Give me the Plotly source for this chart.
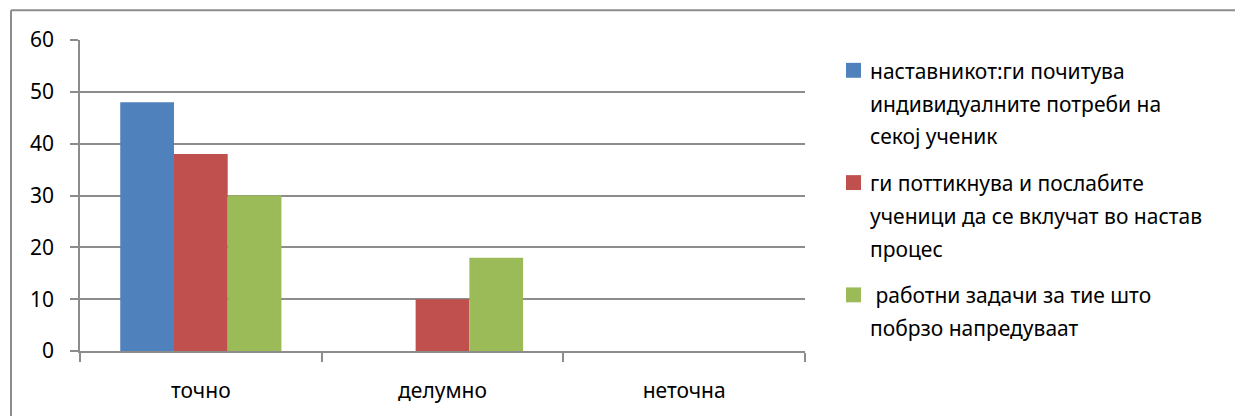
import plotly.graph_objects as go

categories = ["точно", "делумно", "неточна"]
series_names = [
    "наставникот:ги почитува индивидуалните потреби на секој ученик",
    "ги поттикнува и послабите ученици да се вклучат во настав процес",
    " работни задачи за тие што побрзо напредуваат",
]
legend_lines = [
    ["наставникот:ги почитува", "индивидуалните потреби на", "секој ученик"],
    ["ги поттикнува и послабите", "ученици да се вклучат во настав", "процес"],
    ["\u00a0работни задачи за тие што", "побрзо напредуваат"],
]
values_1 = [48, 0, 0]
values_2 = [38, 10, 0]
values_3 = [30, 18, 0]
colors = ["#4F81BD", "#C0504D", "#9BBB59"]
y_ticks = [0, 10, 20, 30, 40, 50, 60]

# page has an 8px body margin; work in page pixels and convert
OFF = 8
W, H = 1243 - OFF, 416 - OFF
L, R, T, B = 80, 805, 40, 353  # page pixel coords of plot area
FONT = "Noto Sans"
FS = 21
GRAY = "#8c8c8c"

def px_x(x):
    return (x - L) / (R - L)

def px_y(y):
    return (B - y) / (B - T)

fig = go.Figure()
for name, vals, col in zip(series_names, [values_1, values_2, values_3], colors):
    fig.add_trace(go.Bar(x=categories, y=vals, name=name, marker=dict(color=col, line=dict(width=0))))

shapes = []
annotations = []
item_first_line_y = [71, 184, 297]
line_step = 33
for i, (lines, col) in enumerate(zip(legend_lines, colors)):
    y0 = item_first_line_y[i]
    shapes.append(dict(type="rect", xref="paper", yref="paper",
                       x0=px_x(846), x1=px_x(861), y0=px_y(y0 - 8), y1=px_y(y0 + 7),
                       fillcolor=col, line=dict(width=0)))
    for j, line in enumerate(lines):
        annotations.append(dict(xref="paper", yref="paper", x=px_x(868), y=px_y(y0 + j * line_step),
                                xanchor="left", yanchor="middle", showarrow=False, text=line,
                                font=dict(family=FONT, size=FS, color="#000000")))

# outer chart border (left and top edges visible)
shapes.append(dict(type="line", xref="paper", yref="paper", x0=px_x(11), x1=px_x(11),
                   y0=px_y(10), y1=px_y(430), line=dict(color=GRAY, width=2)))
shapes.append(dict(type="line", xref="paper", yref="paper", x0=px_x(11), x1=px_x(1260),
                   y0=px_y(10), y1=px_y(10), line=dict(color=GRAY, width=2)))

fig.update_layout(
    width=W, height=H,
    margin=dict(l=L - OFF, r=1243 - R, t=T - OFF, b=416 - B, pad=0),
    paper_bgcolor="white", plot_bgcolor="white",
    barmode="group", bargap=0.333, bargroupgap=0,
    showlegend=False,
    font=dict(family=FONT, size=FS, color="#000000"),
    shapes=shapes, annotations=annotations,
    xaxis=dict(showline=True, linecolor=GRAY, linewidth=1.5, ticks="outside",
               tickson="boundaries", ticklen=9, tickcolor=GRAY, tickwidth=1.5,
               showgrid=False, ticklabelstandoff=20, fixedrange=True),
    yaxis=dict(range=[0, 60], tickvals=y_ticks, showline=True, linecolor=GRAY, linewidth=1.5,
               showgrid=True, gridcolor=GRAY, gridwidth=1.5, zeroline=False,
               ticks="outside", ticklen=8, tickcolor=GRAY, tickwidth=1.5,
               ticklabelstandoff=12, fixedrange=True),
)

fig.write_html("out.html")
